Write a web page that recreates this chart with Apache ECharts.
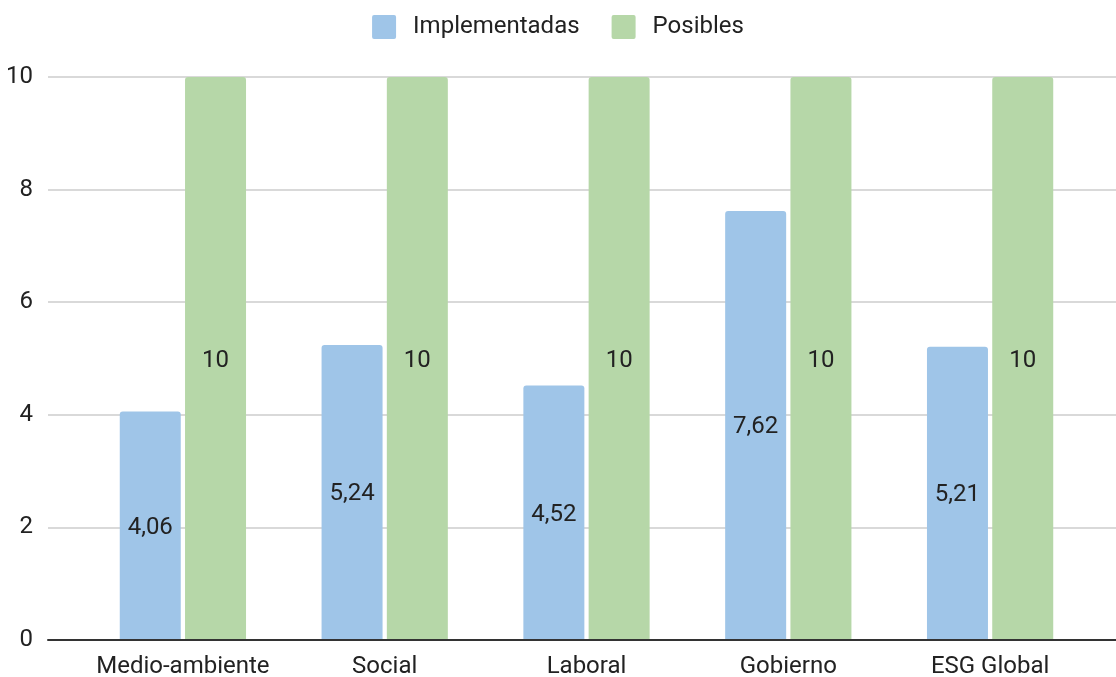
<!DOCTYPE html>
<html>
<head>
<meta charset="utf-8">
<script src="https://cdn.jsdelivr.net/npm/echarts@6/dist/echarts.min.js"></script>
<style>
  html, body { margin: 0; padding: 0; background: #fff; }
  #chart { width: 1116px; height: 677px; }
</style>
</head>
<body>
<div id="chart"></div>
<script>
const categories = ['Medio-ambiente', 'Social', 'Laboral', 'Gobierno', 'ESG Global'];
const implementadas = [4.06, 5.24, 4.52, 7.62, 5.21];
const posibles = [10, 10, 10, 10, 10];
const yTicks = { min: 0, max: 10, interval: 2 };

const FONT = 'Roboto';
const TXT = '#222222';
const fmt = p => String(p.value).replace('.', ',');
const SQUARE = 'path://M2,0 H22 Q24,0 24,2 V22 Q24,24 22,24 H2 Q0,24 0,22 V2 Q0,0 2,0 Z';

const chart = echarts.init(document.getElementById('chart'), null, { renderer: 'canvas' });
chart.setOption({
  backgroundColor: '#ffffff',
  animation: false,
  legend: {
    top: 10,
    left: 'center',
    itemWidth: 24,
    itemHeight: 24,
    itemGap: 32,
    icon: SQUARE,
    textStyle: { fontFamily: FONT, fontSize: 24, color: TXT, padding: [0, 0, 0, 12] },
    data: ['Implementadas', 'Posibles']
  },
  grid: [
    { left: 48, right: 0, top: 77, bottom: 37, containLabel: false, outerBoundsMode: 'none' },
    { left: 82, right: 25, top: 77, bottom: 37, containLabel: false, outerBoundsMode: 'none' }
  ],
  xAxis: [
    {
      gridIndex: 0, type: 'category', data: [''], z: 10,
      axisLine: { show: true, lineStyle: { color: '#333333', width: 2 } },
      axisTick: { show: false }, axisLabel: { show: false }, splitLine: { show: false }
    },
    {
      gridIndex: 1, type: 'category', data: categories,
      axisLine: { show: false }, axisTick: { show: false },
      axisLabel: { interval: 0, fontFamily: FONT, fontSize: 24, color: TXT, margin: 15 }
    }
  ],
  yAxis: [
    {
      gridIndex: 0, type: 'value', min: yTicks.min, max: yTicks.max, interval: yTicks.interval,
      axisLine: { show: false }, axisTick: { show: false },
      axisLabel: { fontFamily: FONT, fontSize: 24, color: TXT, margin: 15 },
      splitLine: { show: true, lineStyle: { color: '#cccccc', width: 1.5 } }
    },
    {
      gridIndex: 1, type: 'value', min: yTicks.min, max: yTicks.max, show: false
    }
  ],
  series: [
    {
      name: 'Implementadas', type: 'bar', xAxisIndex: 1, yAxisIndex: 1,
      data: implementadas, barWidth: 61, barGap: '7%',
      itemStyle: { color: '#9fc5e8', borderRadius: [3, 3, 0, 0] },
      label: { show: true, position: 'inside', offset: [0, 2], formatter: fmt, fontFamily: FONT, fontSize: 24, color: TXT }
    },
    {
      name: 'Posibles', type: 'bar', xAxisIndex: 1, yAxisIndex: 1,
      data: posibles, barWidth: 61, barGap: '7%',
      itemStyle: { color: '#b6d7a8', borderRadius: [3, 3, 0, 0] },
      label: { show: true, position: 'inside', offset: [0, 2], formatter: fmt, fontFamily: FONT, fontSize: 24, color: TXT }
    }
  ]
});
</script>
</body>
</html>
